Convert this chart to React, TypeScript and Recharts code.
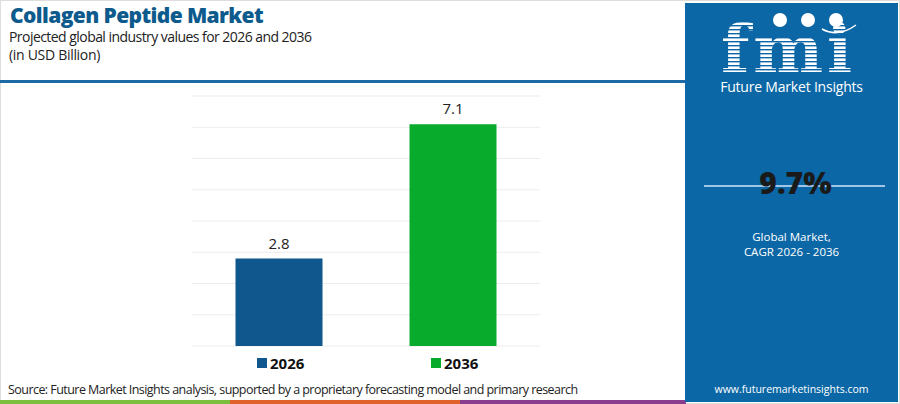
import { BarChart, Bar, XAxis, YAxis, CartesianGrid, Cell, LabelList } from 'recharts'

const years = ['2026', '2036']
const marketValues = [2.8, 7.1]
const yTicks = [0, 1, 2, 3, 4, 5, 6, 7, 8]
const barColors = ['#0f578d', '#09ab2c']

const cagr = '9.7%'

const chartData = years.map((y, i) => ({ year: y, value: marketValues[i] }))

const FONT = '"Open Sans", "Noto Sans", sans-serif'

function YearTick({ x, y, payload, index }: any) {
  return (
    <g transform={`translate(${x},${y})`}>
      <rect x={-22} y={4} width={10} height={10} fill={barColors[index]} />
      <text x={-9} y={14.5} fontSize={15} fontWeight={700} fill="#111" fontFamily={FONT}>
        {payload.value}
      </text>
    </g>
  )
}

function Logo() {
  const stripes = []
  for (let i = 0; i < 14; i++) {
    stripes.push(<rect key={i} x={718} y={21 + i * 4} width={140} height={1.4} fill="#0d66a6" />)
  }
  return (
    <svg width={900} height={404} style={{ position: 'absolute', left: 0, top: 0 }}>
      <text x={721} y={72} fontSize={66} fontWeight={700} fill="#fff" fontFamily='"DejaVu Serif", serif' textLength={131}>
        fmi
      </text>
      {stripes}
      <circle cx={780} cy={20} r={7} fill="#fff" />
      <circle cx={808} cy={20} r={7} fill="#fff" />
      <circle cx={836} cy={20} r={7} fill="#fff" />
      <path d="M822 29 Q838 38 856 25" stroke="#fff" strokeWidth={1.5} fill="none" />
    </svg>
  )
}

export default function App() {
  return (
    <div style={{ position: 'absolute', left: 0, top: 0, width: 900, height: 404, background: '#fff', overflow: 'hidden', fontFamily: FONT }}>
      {/* frame */}
      <div style={{ position: 'absolute', left: 0, top: 0, width: 898, height: 402, border: '1px solid #ddd' }} />
      <div style={{ position: 'absolute', left: 10, top: 4, fontSize: 21, fontWeight: 800, color: '#0d5a8c', letterSpacing: -0.6, lineHeight: '23px' }}>
        Collagen Peptide Market
      </div>
      <div style={{ position: 'absolute', left: 9, top: 28, fontSize: 14, color: '#222', lineHeight: '18px', letterSpacing: -0.55 }}>
        Projected global industry values for 2026 and 2036
      </div>
      <div style={{ position: 'absolute', left: 9, top: 46, fontSize: 14, color: '#222', lineHeight: '18px', letterSpacing: -0.3 }}>
        (in USD Billion)
      </div>
      <div style={{ position: 'absolute', left: 0, top: 80, width: 686, height: 3, background: '#1b6aa6' }} />

      <div style={{ position: 'absolute', left: 0, top: 0 }}>
        <BarChart
          width={684}
          height={404}
          data={chartData}
          margin={{ top: 96, left: 192, right: 144, bottom: 28 }}
          barCategoryGap="25%"
        >
          <CartesianGrid vertical={false} stroke="#ececec" />
          <YAxis hide domain={[0, 8]} ticks={yTicks} />
          <XAxis dataKey="year" axisLine={false} tickLine={false} tick={<YearTick />} interval={0} />
          <Bar dataKey="value" isAnimationActive={false}>
            {chartData.map((d, i) => (
              <Cell key={d.year} fill={barColors[i]} />
            ))}
            <LabelList dataKey="value" position="top" offset={10} fontSize={15} fill="#222" fontFamily={FONT} />
          </Bar>
        </BarChart>
      </div>

      <div style={{ position: 'absolute', left: 8, top: 381, fontSize: 12.5, color: '#222', letterSpacing: -0.55 }}>
        Source: Future Market Insights analysis, supported by a proprietary forecasting model and primary research
      </div>
      <div style={{ position: 'absolute', left: 0, top: 400, width: 230, height: 4, background: '#7cbf3f' }} />
      <div style={{ position: 'absolute', left: 230, top: 400, width: 230, height: 4, background: '#e0612a' }} />
      <div style={{ position: 'absolute', left: 460, top: 400, width: 226, height: 4, background: '#8a3d8f' }} />

      {/* right panel */}
      <div style={{ position: 'absolute', left: 685, top: 3, width: 213, height: 399, background: '#0c67a6' }} />
      <Logo />
      <div style={{ position: 'absolute', left: 685, top: 78, width: 213, textAlign: 'center', fontSize: 14, color: '#fff', lineHeight: '17px', letterSpacing: -0.2 }}>
        Future Market Insights
      </div>
      <div style={{ position: 'absolute', left: 704, top: 185, width: 181, height: 2, background: '#9fc6e6' }} />
      <div style={{ position: 'absolute', left: 689, top: 166, width: 213, textAlign: 'center', fontSize: 30, fontWeight: 800, color: '#1a1a1a', lineHeight: '34px' }}>
        {cagr}
      </div>
      <div style={{ position: 'absolute', left: 685, top: 230, width: 213, textAlign: 'center', fontSize: 11.5, color: '#fff', lineHeight: '13px' }}>
        Global Market,
      </div>
      <div style={{ position: 'absolute', left: 685, top: 245, width: 213, textAlign: 'center', fontSize: 11.5, color: '#fff', lineHeight: '13px' }}>
        CAGR 2026 - 2036
      </div>
      <div style={{ position: 'absolute', left: 685, top: 383, width: 213, textAlign: 'center', fontSize: 10.5, color: '#fff', lineHeight: '13px' }}>
        www.futuremarketinsights.com
      </div>
    </div>
  )
}
